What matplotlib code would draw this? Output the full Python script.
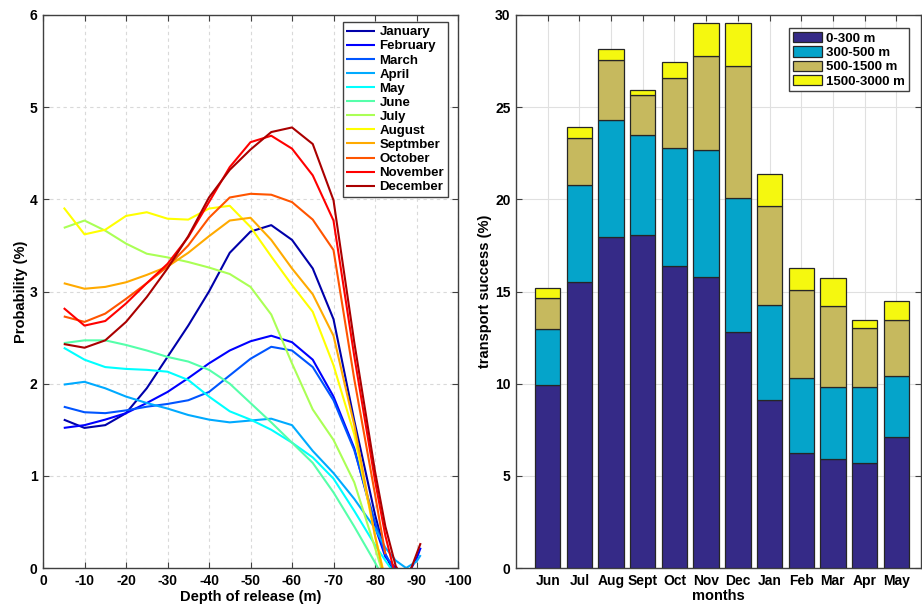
import numpy as np
import matplotlib
matplotlib.use('Agg')
import matplotlib.pyplot as plt
from matplotlib.patches import Patch

plt.rcParams['font.family'] = ['Liberation Sans', 'DejaVu Sans']
plt.rcParams['font.weight'] = 'bold'
plt.rcParams['axes.unicode_minus'] = False

nan = np.nan

# ---------------- left panel data ----------------
depth = [-5, -10, -15, -20, -25, -30, -35, -40, -45, -50, -55, -60, -65, -70, -75,
         -80, -82.5, -85, -87.5, -90, -91]

month_names = ['January', 'February', 'March', 'April', 'May', 'June', 'July',
               'August', 'Septmber', 'October', 'November', 'December']

jan = [1.61, 1.52, 1.55, 1.68, 1.95, 2.29, 2.63, 3.00, 3.42, 3.65, 3.72, 3.56, 3.25, 2.70, 1.60,
       0.58, 0.15, -0.10, nan, nan, nan]
feb = [1.52, 1.55, 1.61, 1.68, 1.79, 1.91, 2.06, 2.22, 2.36, 2.46, 2.52, 2.45, 2.26, 1.86, 1.30,
       0.45, 0.12, 0.00, -0.10, 0.10, 0.22]
mar = [1.75, 1.69, 1.68, 1.71, 1.75, 1.78, 1.82, 1.91, 2.09, 2.27, 2.40, 2.36, 2.18, 1.82, 1.28,
       0.50, 0.15, -0.05, nan, nan, nan]
apr = [1.99, 2.02, 1.95, 1.86, 1.79, 1.73, 1.66, 1.61, 1.58, 1.60, 1.62, 1.55, 1.27, 1.03, 0.75,
       0.43, 0.22, 0.08, 0.00, 0.07, 0.14]
may = [2.39, 2.26, 2.18, 2.16, 2.15, 2.13, 2.04, 1.86, 1.70, 1.61, 1.50, 1.36, 1.20, 0.97, 0.62,
       0.25, 0.08, -0.08, nan, nan, nan]
jun = [2.44, 2.47, 2.47, 2.42, 2.36, 2.29, 2.24, 2.15, 2.00, 1.79, 1.58, 1.36, 1.14, 0.82, 0.45,
       0.06, -0.15, nan, nan, nan, nan]
jul = [3.69, 3.77, 3.66, 3.52, 3.41, 3.37, 3.32, 3.26, 3.19, 3.05, 2.75, 2.22, 1.72, 1.39, 0.93,
       0.22, -0.15, nan, nan, nan, nan]
aug = [3.91, 3.62, 3.67, 3.82, 3.86, 3.79, 3.78, 3.90, 3.93, 3.70, 3.38, 3.07, 2.78, 2.20, 1.45,
       0.35, -0.12, nan, nan, nan, nan]
sep = [3.09, 3.03, 3.05, 3.10, 3.18, 3.27, 3.42, 3.60, 3.77, 3.80, 3.56, 3.25, 2.97, 2.52, 1.55,
       0.35, -0.15, nan, nan, nan, nan]
oct_ = [2.73, 2.67, 2.76, 2.92, 3.09, 3.27, 3.50, 3.80, 4.02, 4.06, 4.05, 3.97, 3.78, 3.45, 2.05,
        0.80, 0.15, nan, nan, nan, nan]
nov = [2.82, 2.63, 2.68, 2.87, 3.09, 3.30, 3.59, 3.97, 4.35, 4.62, 4.69, 4.55, 4.26, 3.77, 2.30,
       0.95, 0.35, -0.10, nan, nan, nan]
dec = [2.43, 2.39, 2.47, 2.67, 2.94, 3.25, 3.60, 4.02, 4.32, 4.54, 4.73, 4.78, 4.60, 3.99, 2.45,
       1.05, 0.45, 0.02, -0.15, 0.15, 0.27]

# ---------------- right panel data ----------------
months = ['Jun', 'Jul', 'Aug', 'Sept', 'Oct', 'Nov', 'Dec', 'Jan', 'Feb', 'Mar', 'Apr', 'May']
layer_names = ['0-300 m', '300-500 m', '500-1500 m', '1500-3000 m']
d0_300 = [9.95, 15.49, 17.93, 18.06, 16.36, 15.78, 12.83, 9.13, 6.25, 5.89, 5.72, 7.12]
d300_500 = [3.00, 5.31, 6.36, 5.45, 6.45, 6.90, 7.26, 5.16, 4.08, 3.95, 4.12, 3.28]
d500_1500 = [1.72, 2.55, 3.25, 2.14, 3.75, 5.07, 7.12, 5.35, 4.76, 4.38, 3.20, 3.08]
d1500_3000 = [0.51, 0.58, 0.59, 0.27, 0.87, 1.83, 2.34, 1.76, 1.18, 1.52, 0.44, 0.98]

# ---------------- figure ----------------
W, H = 922, 608
fig = plt.figure(figsize=(W / 100, H / 100), dpi=100)
ax1 = fig.add_axes([43 / W, 1 - 568 / H, (458 - 43) / W, (568 - 15) / H])
ax2 = fig.add_axes([516 / W, 1 - 568 / H, (921 - 516) / W, (568 - 15) / H])

spine_col = '0.25'
fs = 10

# jet(12) colours as used by MATLAB
jet12 = [(0, 0, 2/3), (0, 0, 1), (0, 1/3, 1), (0, 2/3, 1), (0, 1, 1), (1/3, 1, 2/3),
         (2/3, 1, 1/3), (1, 1, 0), (1, 2/3, 0), (1, 1/3, 0), (1, 0, 0), (2/3, 0, 0)]
series = [jan, feb, mar, apr, may, jun, jul, aug, sep, oct_, nov, dec]
for name, vals, c in zip(month_names, series, jet12):
    ax1.plot(depth, vals, color=c, lw=1.5, label=name, solid_capstyle='butt',
             solid_joinstyle='round')

ax1.set_xlim(0, -100)
ax1.set_ylim(0, 6)
ax1.set_xticks(np.arange(0, -101, -10))
ax1.set_yticks(np.arange(0, 7, 1))
ax1.grid(True, linestyle=(0, (3, 3)), color='0.85', lw=0.8)
ax1.set_axisbelow(True)
ax1.set_xlabel('Depth of release (m)', fontsize=fs + 0.5, fontweight='bold', labelpad=2)
ax1.set_ylabel('Probability (%)', fontsize=fs + 0.5, fontweight='bold', labelpad=1)
leg1 = ax1.legend(loc='upper right', bbox_to_anchor=(0.976, 0.987), borderaxespad=0,
                  fontsize=9.5, fancybox=False, edgecolor=spine_col, framealpha=1,
                  handlelength=2.2, handletextpad=0.3, labelspacing=0.14,
                  borderpad=0.3)
leg1.get_frame().set_linewidth(1.0)

# right panel stacked bars
pos = np.arange(1, len(months) + 1)
bar_cols = ['#352A87', '#05A4CA', '#C6B95E', '#F5F80F']
bottom = np.zeros(len(months))
for name, vals, c in zip(layer_names, [d0_300, d300_500, d500_1500, d1500_3000], bar_cols):
    ax2.bar(pos, vals, width=0.8, bottom=bottom, color=c, edgecolor='0.15', lw=0.9,
            label=name, zorder=3)
    bottom = bottom + np.array(vals)

ax2.set_xlim(0, 12.78)
ax2.set_ylim(0, 30)
ax2.set_xticks(pos)
ax2.set_xticklabels(months)
ax2.set_yticks(np.arange(0, 31, 5))
ax2.grid(True, color='0.88', lw=0.8)
ax2.set_axisbelow(True)
ax2.set_xlabel('months', fontsize=fs + 0.5, fontweight='bold', labelpad=1)
ax2.set_ylabel('transport success (%)', fontsize=fs + 0.5, fontweight='bold', labelpad=2)
handles = [Patch(facecolor=c, edgecolor='0.15', lw=0.9) for c in bar_cols]
leg2 = ax2.legend(handles, layer_names, loc='upper right', bbox_to_anchor=(0.971, 0.976),
                  borderaxespad=0, fontsize=9.5, fancybox=False, edgecolor=spine_col,
                  framealpha=1, handlelength=2.2, handleheight=0.8, handletextpad=0.3,
                  labelspacing=0.12, borderpad=0.3)
leg2.get_frame().set_linewidth(1.0)

for ax in (ax1, ax2):
    for sp in ax.spines.values():
        sp.set_color(spine_col)
        sp.set_linewidth(1.0)
    ax.tick_params(direction='in', length=4, width=0.8, color=spine_col, labelsize=fs,
                   top=True, right=True, pad=4)
    for lab in ax.get_xticklabels() + ax.get_yticklabels():
        lab.set_fontweight('bold')

fig.savefig('out.png', dpi=100)
